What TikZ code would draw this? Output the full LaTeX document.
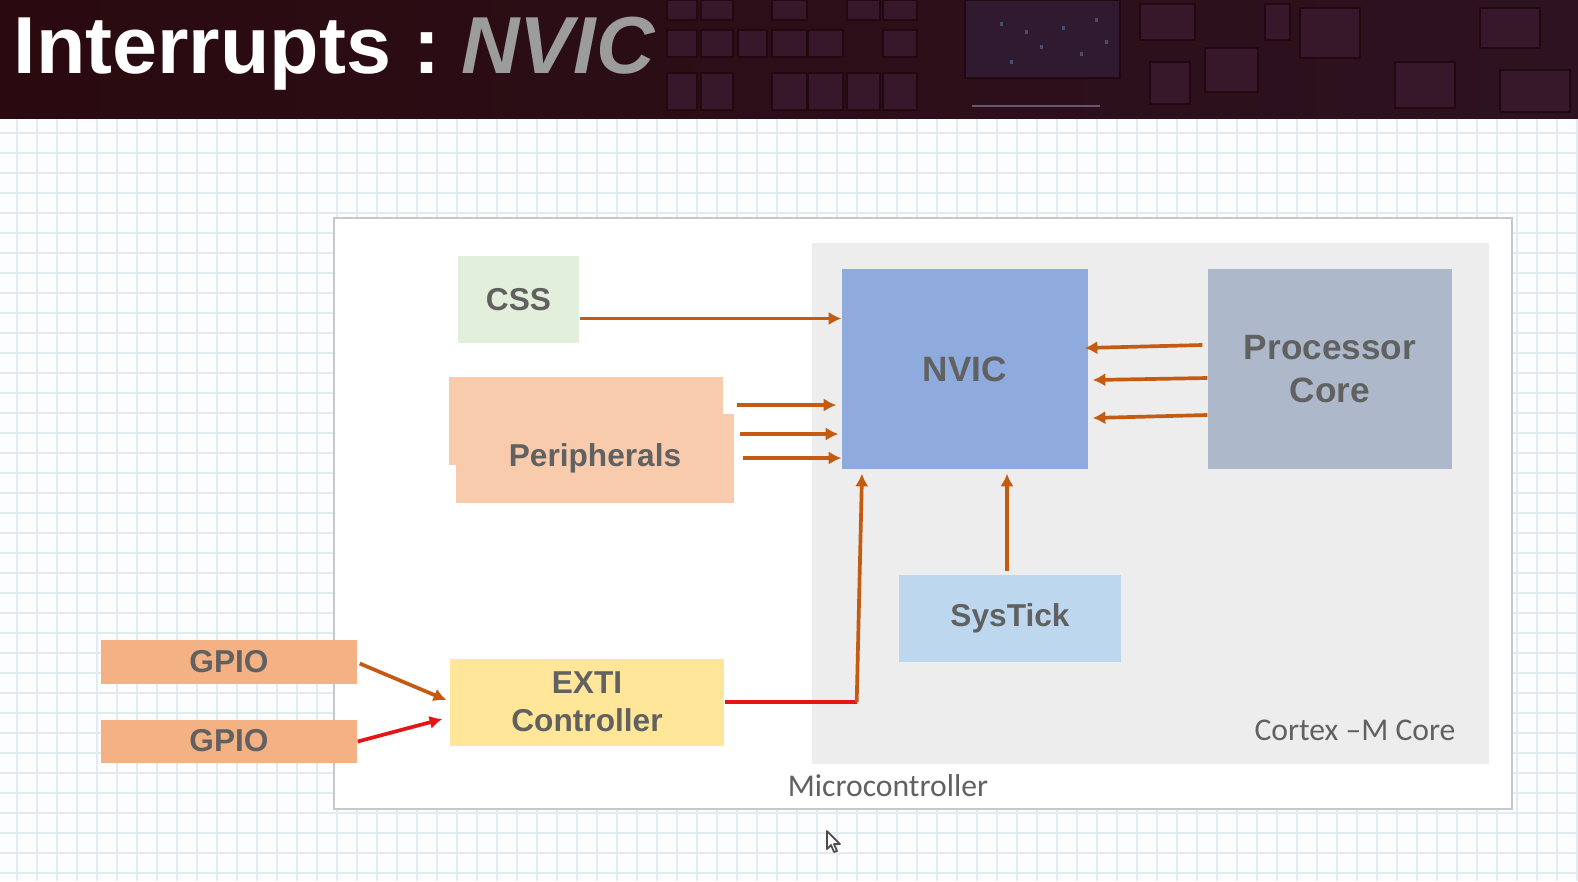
\documentclass[tikz,border=0pt]{standalone}
\usepackage{fontspec}
\setmainfont{Liberation Sans}
\newfontfamily\calibri{Carlito}
\usetikzlibrary{arrows.meta,calc}

\definecolor{barleft}{HTML}{2A0A0F}
\definecolor{barright}{HTML}{2D1220}
\definecolor{chip}{HTML}{36182A}
\definecolor{chipedge}{HTML}{22090F}
\definecolor{bigchip}{HTML}{2F1A30}
\definecolor{titlegray}{HTML}{9C9C9C}
\definecolor{paper}{HTML}{FBFDFE}
\definecolor{gridc}{HTML}{E1EBF0}
\definecolor{framec}{HTML}{C8C8C8}
\definecolor{corefill}{HTML}{EDEDED}
\definecolor{txt}{HTML}{616161}
\definecolor{cssc}{HTML}{E2EFDA}
\definecolor{perc}{HTML}{F8CBAD}
\definecolor{nvicc}{HTML}{8FAADC}
\definecolor{procc}{HTML}{ADB9CA}
\definecolor{sysc}{HTML}{BDD7EE}
\definecolor{extic}{HTML}{FFE699}
\definecolor{gpioc}{HTML}{F4B183}
\definecolor{arrc}{HTML}{C55A11}
\definecolor{redc}{HTML}{E81414}

\tikzset{
  sz/.style 2 args={minimum width=#1*0.01cm, minimum height=#2*0.01cm},
  blk/.style={inner sep=0pt, align=center, text=txt,
    font=\fontsize{9}{10.8}\selectfont\bfseries},
  bigblk/.style={blk, font=\fontsize{10}{12.2}\selectfont\bfseries},
  arr/.style={draw=arrc, line width=1.05pt, -{Latex[length=3.6pt,width=3.8pt]}},
  redarr/.style={arr, draw=redc, fill=redc},
  note/.style={text=txt, inner sep=0pt, font=\fontsize{9}{10.8}\selectfont\calibri},
}

\begin{document}
\begin{tikzpicture}[x=0.01cm, y=-0.01cm]
\useasboundingbox (0,0) rectangle (1578,881);

% ---------- page background with squared paper ----------
\fill[paper] (0,118) rectangle (1578,881);
\foreach \gx in {17,37,...,1577}
  \draw[gridc, line width=0.45pt] (\gx,118) -- (\gx,881);
\foreach \gy in {133,153,...,873}
  \draw[gridc, line width=0.45pt] (0,\gy) -- (1578,\gy);

% ---------- title bar ----------
\shade[left color=barleft, right color=barright] (0,0) rectangle (1578,118);
\foreach \xa/\ya/\xb/\yb in {
  667/0/697/20, 701/0/733/20, 772/0/807/20, 847/0/880/20, 883/0/917/20,
  667/30/697/57, 701/30/733/57, 738/30/767/57, 772/30/807/57, 808/30/843/57, 883/30/917/57,
  667/73/697/110, 701/73/733/110, 772/73/807/110, 808/73/843/110, 847/73/880/110, 883/73/917/110,
  1140/4/1195/40, 1205/48/1258/92, 1300/8/1360/58, 1395/62/1455/108,
  1480/8/1540/48, 1150/62/1190/104, 1265/4/1290/40, 1500/70/1570/112}
  \fill[chip, draw=chipedge, line width=0.8pt] (\xa,\ya) rectangle (\xb,\yb);
\fill[bigchip, draw=chipedge, line width=0.8pt] (965,0) rectangle (1120,78);
\foreach \sx/\sy in {1000/22, 1025/30, 1040/45, 1062/26, 1080/52, 1095/18, 1010/60, 1105/40}
  \fill[blue!40!cyan!50!white, opacity=0.3] (\sx,\sy) rectangle ++(3,4);
\draw[blue!25!white, opacity=0.4, line width=0.8pt] (972,106) -- (1100,106);
\node[anchor=base west, inner sep=0pt,
      font=\fontsize{23}{27}\selectfont\bfseries] (title) at (13,73.5)
  {\textcolor{white}{Interrupts :}\hspace{5.9pt}\textcolor{titlegray}{\itshape NVIC}};

% ---------- microcontroller frame and core area ----------
\node[draw=framec, fill=white, line width=0.6pt, anchor=north west,
      sz={1178}{591}, inner sep=0pt] (mcu) at (333,217) {};
\node[fill=corefill, anchor=north west, sz={677}{521}, inner sep=0pt] (core) at (811,242) {};
\node[note] (mculabel) at (888,786) {Microcontroller};
\node[note] (corelabel) at (1355,730) {Cortex –M Core};

% ---------- blocks ----------
\node[blk, fill=cssc, sz={121}{87}] (css) at (518.5,299.5) {CSS};
\node[blk, fill=perc, sz={274}{88}] (perback) at (586,421) {};
\node[blk, fill=perc, sz={278}{89}] (per) at (595,458.5) {Peripherals};
\node[bigblk, fill=nvicc, sz={246}{200}] (nvic) at (965,369) {NVIC};
\node[bigblk, fill=procc, sz={244}{200}] (proc) at (1330,369) {Processor\\Core};
\node[blk, fill=sysc, sz={222}{87}] (sys) at (1010,618) {SysTick};
\node[blk, fill=extic, sz={274}{87}] (exti) at (587,702) {EXTI\\Controller};
\node[blk, fill=gpioc, sz={256}{44}] (gpioa) at (229,661.5) {GPIO};
\node[blk, fill=gpioc, sz={256}{43}] (gpiob) at (229,741) {GPIO};

% ---------- connectors ----------
% CSS to NVIC
\coordinate (cssout) at ($(css.east)+(0,19)$);
\draw[arr] (cssout) -- (cssout -| nvic.west);
% peripheral interrupt lines
\draw[arr] ($(per.east)+(2,-53.5)$) -- ($(nvic.west)+(-5,36)$);
\draw[arr] ($(per.east)+(5,-24.5)$) -- ($(nvic.west)+(-3,65)$);
\draw[arr] ($(per.east)+(8,-0.5)$) -- ($(nvic.west)+(0,89)$);
% processor core to NVIC
\draw[arr] ($(proc.west)+(-5,-24)$) -- ($(nvic.east)+(-4,-21)$);
\draw[arr] ($(proc.west)+(0,9)$) -- ($(nvic.east)+(4,11)$);
\draw[arr] ($(proc.west)+(0,46)$) -- ($(nvic.east)+(4,49)$);
% SysTick to NVIC
\draw[arr] ($(sys.north)+(-3,-3)$) -- ($(nvic.south)+(42,4)$);
% EXTI to NVIC
\coordinate (bend) at ($(exti.east)+(132,0)$);
\draw[redc, line width=1.05pt] (exti.east) -- (bend);
\draw[arr] (bend) -- ($(nvic.south)+(-103,4)$);
% GPIO lines into EXTI
\draw[arr] ($(gpioa.east)+(2,2)$) -- ($(exti.west)+(-3,-2)$);
\draw[redarr] ($(gpiob.east)+(0,0.5)$) -- ($(exti.west)+(-7,17)$);

% ---------- mouse pointer ----------
\filldraw[fill=white, draw=black!70, line width=0.5pt, line join=round]
  (827,831) -- (827,849) -- (831,845) -- (834,852) -- (837,851)
  -- (834,844) -- (840,844) -- cycle;
\end{tikzpicture}
\end{document}
